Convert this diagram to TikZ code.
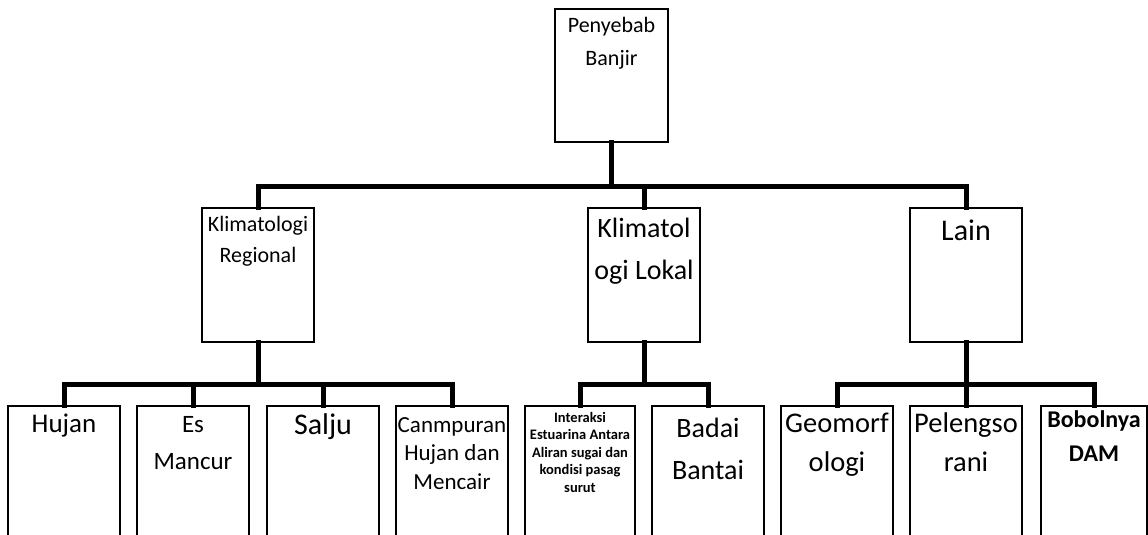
\documentclass[tikz,border=0pt]{standalone}
\usepackage{fontspec}
\setmainfont{Carlito}
\usetikzlibrary{calc}
\newcommand{\mylines}[1]{\begin{tabular}[t]{@{}c@{}}#1\end{tabular}}
\begin{document}
\begin{tikzpicture}[x=1pt,y=-1pt,
  box/.style={draw=black, line width=1.8pt, inner sep=0pt, minimum width=112pt},
  topbox/.style={box, minimum width=113pt, minimum height=133pt},
  midbox/.style={box, minimum height=134pt},
  lowbox/.style={box, minimum height=170pt},
  conn/.style={draw=black, line width=5pt, line join=miter, line cap=rect},
  txt/.style={anchor=base, inner sep=0pt, text=black}]
\useasboundingbox (0,0) rectangle (1148,535);
\fill[white] (0,0) rectangle (1148,535);
\clip (0,0) rectangle (1148,535);

% boxes
\node[topbox] (pb) at (611.5,75.5) {};
\node[midbox] (kr) at (258,275) {};
\node[midbox] (kl) at (644,275) {};
\node[midbox] (ln) at (966,275) {};

\node[lowbox] (hu) at (64,491) {};
\node[lowbox] (es) at (193,491) {};
\node[lowbox] (sa) at (323,491) {};
\node[lowbox] (ca) at (452,491) {};
\node[lowbox, minimum width=110pt] (in) at (580,491) {};
\node[lowbox] (bd) at (708,491) {};
\node[lowbox] (ge) at (837,491) {};
\node[lowbox] (pe) at (966,491) {};
\node[lowbox, minimum width=106pt] (bo) at (1094,491) {};

% connectors
\coordinate (b1) at (0,186);
\coordinate (b2) at (0,384);
\draw[conn] (pb.south) -- (pb.south |- b1);
\draw[conn] (kr.north) -- (kr.north |- b1) -- (ln.north |- b1) -- (ln.north);
\draw[conn] (kl.north) -- (kl.north |- b1);

\draw[conn] (kr.south) -- (kr.south |- b2);
\draw[conn] (hu.north) -- (hu.north |- b2) -- (ca.north |- b2) -- (ca.north);
\draw[conn] (es.north) -- (es.north |- b2);
\draw[conn] (sa.north) -- (sa.north |- b2);

\draw[conn] (kl.south) -- (kl.south |- b2);
\draw[conn] (in.north) -- (in.north |- b2) -- (bd.north |- b2) -- (bd.north);

\draw[conn] (ln.south) -- (ln.south |- b2);
\draw[conn] (ge.north) -- (ge.north |- b2) -- (bo.north |- b2) -- (bo.north);
\draw[conn] (pe.north) -- (pe.north |- b2);

% labels
\node[txt, font=\fontsize{22}{33}\selectfont] (tpb) at ($(pb.north)+(0,24)$) {\mylines{Penyebab\\Banjir}};
\node[txt, font=\fontsize{22}{31}\selectfont] (tkr) at ($(kr.north)+(0,24)$) {\mylines{Klimatologi\\Regional}};
\node[txt, font=\fontsize{28}{42}\selectfont] (tkl) at ($(kl.north)+(0,30)$) {\mylines{Klimatol\\ogi Lokal}};
\node[txt, font=\fontsize{30}{40}\selectfont] (tln) at ($(ln.north)+(0,33)$) {Lain};

\node[txt, font=\fontsize{27}{36}\selectfont] (thu) at ($(hu.north)+(0,27)$) {Hujan};
\node[txt, font=\fontsize{25}{37}\selectfont] (tes) at ($(es.north)+(0,27)$) {\mylines{Es\\Mancur}};
\node[txt, font=\fontsize{30}{40}\selectfont] (tsa) at ($(sa.north)+(0,29)$) {Salju};
\node[txt, font=\fontsize{23}{28.5}\selectfont] (tca) at ($(ca.north)+(0,27)$) {\mylines{Canmpuran\\Hujan dan\\Mencair}};
\node[txt, font=\bfseries\fontsize{14.5}{17.5}\selectfont] (tin) at ($(in.north)+(0,17)$) {\mylines{Interaksi\\Estuarina Antara\\Aliran sugai dan\\kondisi pasag\\surut}};
\node[txt, font=\fontsize{28}{42}\selectfont] (tbd) at ($(bd.north)+(0,32)$) {\mylines{Badai\\Bantai}};
\node[txt, font=\fontsize{28.5}{39}\selectfont] (tge) at ($(ge.north)+(0,27)$) {\mylines{Geomorf\\ologi}};
\node[txt, font=\fontsize{28.5}{39}\selectfont] (tpe) at ($(pe.north)+(0,27)$) {\mylines{Pelengso\\rani}};
\node[txt, font=\bfseries\fontsize{24}{34}\selectfont] (tbo) at ($(bo.north)+(0,22)$) {\mylines{Bobolnya\\DAM}};
\end{tikzpicture}
\end{document}
